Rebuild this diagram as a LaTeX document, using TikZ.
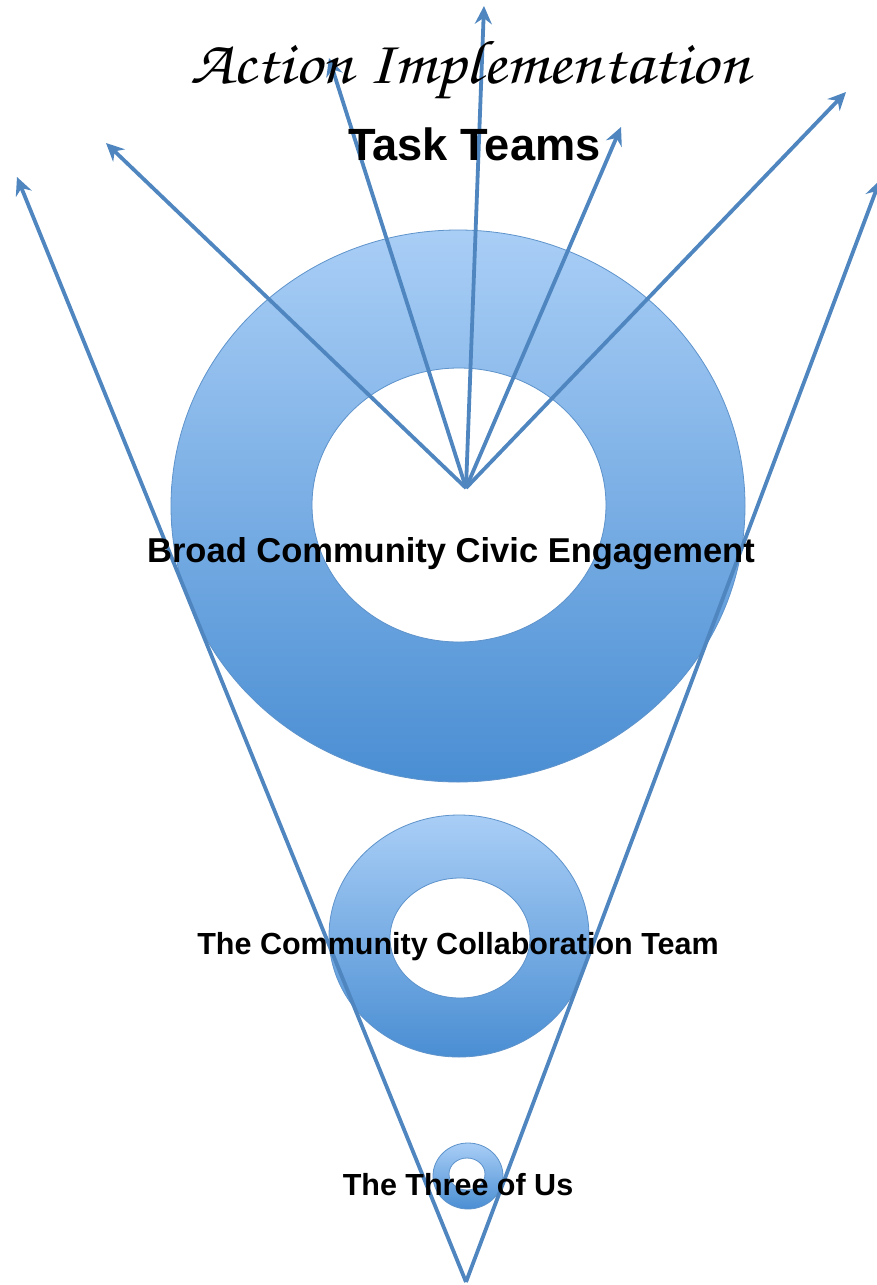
\documentclass[tikz,border=0pt]{standalone}
\usepackage[T1,TU]{fontenc}
\usepackage{fontspec}
\setmainfont{Liberation Sans}
\usetikzlibrary{arrows.meta}
\definecolor{ringtop}{HTML}{A9CEF6}
\definecolor{ringbot}{HTML}{4A8ED3}
\definecolor{ringedge}{HTML}{5E93CB}
\definecolor{linecol}{HTML}{4F86C0}
\newcommand\handfont{\fontencoding{T1}\fontfamily{pzc}\fontseries{mb}\fontshape{it}\selectfont}
\begin{document}
\begin{tikzpicture}[x=1pt,y=-1pt,
  ring/.style={top color=ringtop, bottom color=ringbot, even odd rule, draw=ringedge, line width=0.8pt},
  link/.style={draw=linecol, line width=3.8pt, -{Stealth[length=18pt,width=17pt,inset=6pt]}},
  lbl/.style={inner sep=0pt, anchor=base, text=black}]
\useasboundingbox[fill=white] (0,0) rectangle (876,1285);
% rings
\path[ring] (458,506) ellipse (287 and 276) (459,505) ellipse (147 and 137);
\path[ring] (459,936) ellipse (130 and 121) (460,938) ellipse (70 and 60);
\path[ring] (468,1176) ellipse (35 and 33) (467,1174) ellipse (18 and 16);
% coordinates
\coordinate (fan) at (466,488);
\coordinate (t1) at (106,143);
\coordinate (t2) at (329,58);
\coordinate (t3) at (484,6);
\coordinate (t4) at (621,127);
\coordinate (t5) at (846,92);
\coordinate (vb) at (466,1282);
\coordinate (vl) at (17,177);
\coordinate (vr) at (880,180);
% connectors
\draw[link] (fan) -- (t1);
\draw[link] (fan) -- (t2);
\draw[link] (fan) -- (t3);
\draw[link] (fan) -- (t4);
\draw[link] (fan) -- (t5);
\draw[link] (vb) -- (vl);
\draw[link] (vb) -- (vr);
% texts
\node[lbl, font=\handfont\fontsize{62}{66}\selectfont, xscale=1.1] (title) at (470,83) {Action Implementation};
\node[lbl, font=\bfseries\fontsize{45.2}{50}\selectfont] (task) at (474.5,160) {Task Teams};
\node[lbl, font=\bfseries\fontsize{34.5}{40}\selectfont] (broad) at (451,562) {Broad Community Civic Engagement};
\node[lbl, font=\bfseries\fontsize{30.5}{34}\selectfont] (cct) at (458,954) {The Community Collaboration Team};
\node[lbl, font=\bfseries\fontsize{30.5}{34}\selectfont] (three) at (458,1195) {The Three of Us};
\end{tikzpicture}
\end{document}
